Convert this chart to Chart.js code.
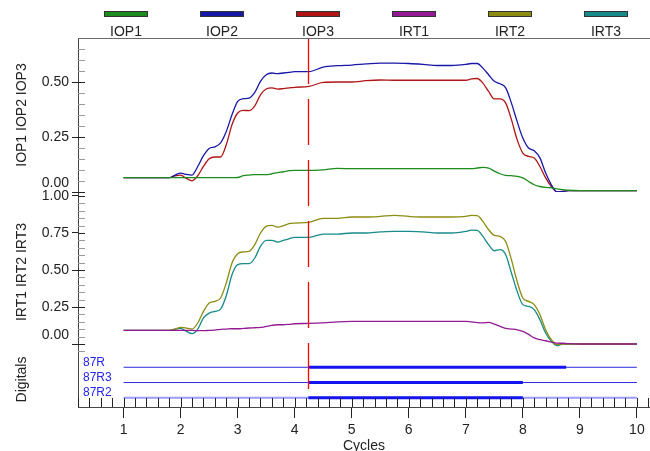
<!DOCTYPE html>
<html>
<head>
<meta charset="utf-8">
<script src="https://cdn.jsdelivr.net/npm/chart.js@4.4.0/dist/chart.umd.min.js"></script>
<style>
  body { margin: 0; background: #fff; }
  #wrap { position: relative; width: 650px; height: 451px; font-family: "Liberation Sans", Arial, sans-serif; }
  #trace { display: block; }
  #legend { position: absolute; left: 78px; top: 0; width: 576px; display: flex; }
  .item { flex: 1; text-align: center; }
  .swatch { width: 42px; height: 4px; margin: 11px auto 0; border: 1px solid #333; }
  .name { margin-top: 7px; font-size: 14px; line-height: 14px; color: #222; }
  #frameTop { position: absolute; height: 0; border-top: 1px solid #6a6a6a; }
</style>
</head>
<body>
<div id="wrap">
  <canvas id="trace" width="650" height="451"></canvas>
  <div id="legend"></div>
  <div id="frameTop"></div>
</div>
<script>
// sample times (cycles) shared by all analog traces
const cycles = [1.0, 1.5, 1.8, 1.9, 2.0, 2.1, 2.2, 2.3, 2.4, 2.5, 2.6, 2.7, 2.8, 2.9,
    3.0, 3.1, 3.2, 3.3, 3.4, 3.5, 3.6, 3.7, 3.8, 3.9, 4.0, 4.25, 4.5, 4.75,
    5.0, 5.25, 5.5, 5.75, 6.0, 6.25, 6.5, 6.75, 7.0, 7.1, 7.2, 7.3, 7.4, 7.5,
    7.6, 7.7, 7.8, 7.9, 8.0, 8.1, 8.2, 8.3, 8.4, 8.5, 8.6, 8.7, 8.8, 9.0, 9.5, 10.0];

const iop1 = [0.065, 0.065, 0.065, 0.065, 0.065, 0.065, 0.065, 0.065, 0.065, 0.065, 0.065, 0.065, 0.065, 0.065,
    0.066, 0.074, 0.077, 0.079, 0.079, 0.079, 0.083, 0.088, 0.092, 0.097, 0.098, 0.098, 0.101, 0.107,
    0.106, 0.106, 0.106, 0.106, 0.106, 0.106, 0.106, 0.106, 0.106, 0.106, 0.109, 0.112, 0.109, 0.095,
    0.083, 0.076, 0.074, 0.071, 0.064, 0.048, 0.033, 0.025, 0.021, 0.019, 0.014, 0.011, 0.008, 0.006, 0.006, 0.006];
const iop2 = [0.065, 0.065, 0.065, 0.077, 0.086, 0.080, 0.077, 0.116, 0.165, 0.198, 0.205, 0.223, 0.275, 0.351,
    0.412, 0.424, 0.427, 0.453, 0.503, 0.533, 0.541, 0.538, 0.541, 0.544, 0.547, 0.547, 0.568, 0.574,
    0.577, 0.582, 0.586, 0.586, 0.584, 0.580, 0.575, 0.575, 0.580, 0.584, 0.584, 0.563, 0.533, 0.503,
    0.492, 0.473, 0.404, 0.321, 0.245, 0.200, 0.188, 0.155, 0.086, 0.033, 0.000, 0.003, 0.006, 0.006, 0.006, 0.006];
const iop3 = [0.065, 0.065, 0.065, 0.073, 0.077, 0.062, 0.051, 0.074, 0.116, 0.151, 0.159, 0.159, 0.215, 0.306,
    0.359, 0.371, 0.370, 0.392, 0.442, 0.468, 0.473, 0.468, 0.470, 0.473, 0.476, 0.480, 0.498, 0.500,
    0.500, 0.506, 0.509, 0.508, 0.508, 0.508, 0.508, 0.508, 0.508, 0.514, 0.516, 0.495, 0.457, 0.423,
    0.423, 0.404, 0.329, 0.238, 0.177, 0.162, 0.155, 0.116, 0.064, 0.025, 0.001, 0.003, 0.006, 0.006, 0.006, 0.006];
const irt1 = [0.092, 0.092, 0.092, 0.092, 0.092, 0.092, 0.092, 0.090, 0.090, 0.092, 0.094, 0.099, 0.101, 0.103,
    0.103, 0.105, 0.108, 0.110, 0.112, 0.119, 0.126, 0.130, 0.130, 0.133, 0.137, 0.139, 0.143, 0.150,
    0.153, 0.153, 0.153, 0.153, 0.153, 0.153, 0.153, 0.153, 0.153, 0.149, 0.145, 0.143, 0.146, 0.135,
    0.119, 0.105, 0.101, 0.096, 0.085, 0.065, 0.041, 0.029, 0.022, 0.013, 0.006, 0.005, 0.002, 0.000, 0.000, 0.000];
const irt2 = [0.092, 0.092, 0.092, 0.101, 0.112, 0.108, 0.101, 0.142, 0.220, 0.277, 0.288, 0.311, 0.412, 0.547,
    0.610, 0.622, 0.626, 0.671, 0.750, 0.795, 0.801, 0.790, 0.799, 0.813, 0.817, 0.822, 0.849, 0.849,
    0.858, 0.858, 0.862, 0.869, 0.862, 0.858, 0.858, 0.858, 0.862, 0.869, 0.867, 0.828, 0.772, 0.734,
    0.727, 0.693, 0.570, 0.423, 0.311, 0.288, 0.266, 0.198, 0.097, 0.029, -0.005, 0.000, 0.000, 0.000, 0.000, 0.000];
const irt3 = [0.092, 0.092, 0.092, 0.101, 0.105, 0.085, 0.070, 0.101, 0.176, 0.209, 0.220, 0.236, 0.326, 0.468,
    0.536, 0.543, 0.543, 0.581, 0.660, 0.700, 0.700, 0.689, 0.700, 0.711, 0.721, 0.721, 0.743, 0.743,
    0.750, 0.750, 0.757, 0.761, 0.761, 0.757, 0.750, 0.750, 0.761, 0.770, 0.768, 0.727, 0.671, 0.630,
    0.637, 0.603, 0.480, 0.356, 0.266, 0.254, 0.232, 0.164, 0.074, 0.018, -0.011, 0.000, 0.000, 0.000, 0.000, 0.000];

const seriesNames = ["IOP1", "IOP2", "IOP3", "IRT1", "IRT2", "IRT3"];
const seriesValues = [iop1, iop2, iop3, irt1, irt2, irt3];
const seriesColors = ["#1c8c1c", "#1818a8", "#b01414", "#931a93", "#8c8c10", "#178a8a"];
const seriesAxis = ["yTop", "yTop", "yTop", "yMid", "yMid", "yMid"];

const xTicks = [1, 2, 3, 4, 5, 6, 7, 8, 9, 10];
const topTicks = [0, 0.25, 0.5];
const midTicks = [0, 0.25, 0.5, 0.75, 1];

// digital channels: level on the Digitals axis, pickup and dropout in cycles
const digitalNames = ["87R", "87R3", "87R2"];
const digitalLevels = [3, 2, 1];
const digitalOn = [4.24, 4.24, 4.24];
const digitalOff = [8.76, 8.0, 8.0];
const digitalSpan = [1, 10];

const cursorX = 4.24;

const fontFamily = "'Liberation Sans', Arial, sans-serif";
const tickFont = { family: fontFamily, size: 14 };

const datasets = seriesNames.map((name, i) => ({
    label: name,
    data: cycles.map((c, j) => ({ x: c, y: seriesValues[i][j] })),
    yAxisID: seriesAxis[i],
    borderColor: seriesColors[i],
    borderWidth: 1.3,
    pointRadius: 0,
    cubicInterpolationMode: "monotone"
}));

digitalNames.forEach((name, i) => {
    datasets.push({
        label: name,
        data: digitalSpan.map(c => ({ x: c, y: digitalLevels[i] })),
        yAxisID: "yDig",
        borderColor: i === 2 ? "#9a9aff" : "#2a2ae0",
        borderWidth: i === 2 ? 2 : 1,
        pointRadius: 0,
        order: 1
    });
    // active state drawn over the channel line
    datasets.push({
        label: name + " on",
        data: [digitalOn[i], digitalOff[i]].map(c => ({ x: c, y: digitalLevels[i] })),
        yAxisID: "yDig",
        borderColor: "#1414f0",
        borderWidth: 3,
        pointRadius: 0,
        order: -1
    });
});

function panelAxis(min, max, weight, stackWeight, ticks, title) {
    return {
        type: "linear",
        position: "left",
        stack: "panels",
        weight: weight,
        stackWeight: stackWeight,
        min: min,
        max: max,
        afterBuildTicks: s => { s.ticks = ticks.map(v => ({ value: v })); },
        afterFit: s => { s.width = 78; },
        ticks: {
            font: tickFont, color: "#222", padding: 3, autoSkip: false,
            // the bottom label of each panel sits a little above its tick
            callback: v => v === 0 ? ["0.00", ""] : v.toFixed(2)
        },
        grid: { drawOnChartArea: false, tickLength: 6, color: "#222" },
        border: { color: "#444" },
        title: { display: true, text: title, font: tickFont, color: "#222", padding: { top: 14, bottom: 0 } }
    };
}

// minor ticks, digital labels and the red time cursor
const overlay = {
    id: "overlay",
    afterDraw(chart) {
        const ctx = chart.ctx;
        const area = chart.chartArea;
        const x = chart.scales.x;
        const dig = chart.scales.yDig;
        ctx.save();

        ctx.lineWidth = 1;
        ctx.strokeStyle = "#222";
        ctx.beginPath();
        for (let i = 1; i <= 51; i++) {
            const v = i / 5;
            if (v > x.max) break;
            const px = Math.round(x.getPixelForValue(v)) + 0.5;
            ctx.moveTo(px, area.bottom);
            ctx.lineTo(px, area.bottom - 9);
        }
        ctx.stroke();

        ["yTop", "yMid"].forEach(id => {
            const s = chart.scales[id];
            for (let k = Math.ceil(s.min * 20); k <= Math.floor(s.max * 20); k++) {
                const py = Math.round(s.getPixelForValue(k / 20)) + 0.5;
                ctx.strokeStyle = k % 5 === 0 ? "#222" : "#999";
                ctx.beginPath();
                ctx.moveTo(area.left, py);
                ctx.lineTo(area.left + 7, py);
                ctx.stroke();
            }
        });

        ctx.fillStyle = "#2424ee";
        ctx.font = "12px " + fontFamily;
        ctx.textBaseline = "middle";
        digitalNames.forEach((name, i) => {
            ctx.fillText(name, area.left + 5, dig.getPixelForValue(digitalLevels[i]) - 5);
        });

        const cx = Math.round(x.getPixelForValue(cursorX)) + 0.5;
        ctx.strokeStyle = "#ff0000";
        ctx.lineWidth = 1.3;
        ctx.setLineDash([46, 15]);
        ctx.beginPath();
        ctx.moveTo(cx, area.top);
        ctx.lineTo(cx, dig.getPixelForValue(1.5));
        ctx.stroke();
        ctx.restore();
    }
};

const ctx = document.getElementById("trace").getContext("2d");
const chart = new Chart(ctx, {
    type: "line",
    data: { datasets: datasets },
    plugins: [overlay],
    options: {
        responsive: false,
        animation: false,
        devicePixelRatio: 1,
        layout: { padding: { top: 38, right: 0, left: 0, bottom: 0 } },
        plugins: { legend: { display: false }, tooltip: { enabled: false } },
        scales: {
            x: {
                type: "linear",
                position: "bottom",
                min: 0.2,
                max: 10.23,
                afterBuildTicks: s => { s.ticks = xTicks.map(v => ({ value: v })); },
                afterFit: s => { s.height = 44; },
                ticks: { font: tickFont, color: "#222", padding: 4, maxRotation: 0, autoSkip: false },
                grid: { drawOnChartArea: false, tickLength: 11, color: "#222" },
                border: { color: "#444" },
                title: { display: true, text: "Cycles", font: { family: fontFamily, size: 14, lineHeight: 1 }, color: "#222", padding: { top: 0, bottom: -2 } }
            },
            yTop: panelAxis(0, 0.7, 3, 154, topTicks, "IOP1 IOP2 IOP3"),
            yMid: panelAxis(-0.054, 1.027, 2, 160, midTicks, "IRT1 IRT2 IRT3"),
            yDig: {
                type: "linear",
                position: "left",
                stack: "panels",
                weight: 1,
                stackWeight: 55,
                min: 0.4,
                max: 4,
                afterFit: s => { s.width = 78; },
                ticks: { display: false },
                grid: { drawOnChartArea: false, drawTicks: false },
                border: { color: "#444" },
                title: { display: true, text: "Digitals", font: tickFont, color: "#222", padding: { top: 14, bottom: 0 } }
            }
        }
    }
});

// top edge of the plot frame, placed on the chart area
const area = chart.chartArea;
const frameTop = document.getElementById("frameTop");
frameTop.style.left = area.left + "px";
frameTop.style.top = Math.round(area.top) + "px";
frameTop.style.width = (area.right - area.left) + "px";

// Legend row: colour bar above each trace name
const legend = document.getElementById("legend");
seriesNames.forEach((name, i) => {
    const item = document.createElement("div");
    item.className = "item";
    item.innerHTML = `<div class="swatch" style="background:${seriesColors[i]}"></div><div class="name">${name}</div>`;
    legend.appendChild(item);
});
</script>
</body>
</html>
